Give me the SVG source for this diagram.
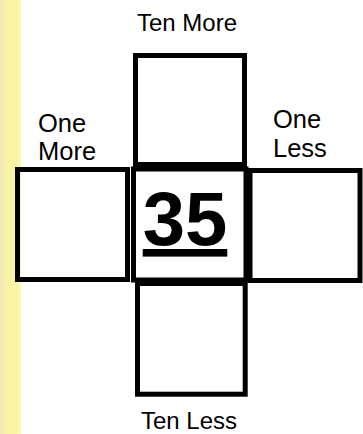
<svg xmlns="http://www.w3.org/2000/svg" width="363" height="434" viewBox="0 0 363 434">
  <defs>
    <linearGradient id="strip" x1="0" y1="0" x2="1" y2="0">
      <stop offset="0" stop-color="#f4e6b6"/>
      <stop offset="0.35" stop-color="#f9f4a6"/>
      <stop offset="0.75" stop-color="#f9f4a0"/>
      <stop offset="1" stop-color="#fbf8c0"/>
    </linearGradient>
  </defs>
  <style>
    .box { fill: none; stroke: #000; stroke-width: 5; }
    .lbl { font-family: "Liberation Sans", Arial, sans-serif; font-size: 24px; fill: #000; }
    .side { font-size: 25.5px; }
    .num { font-family: "Liberation Sans", Arial, sans-serif; font-size: 76px; font-weight: bold; fill: #000; text-decoration: underline; }
  </style>
  <rect x="0" y="0" width="363" height="434" fill="#fff"/>
  <rect x="0" y="0" width="21" height="434" fill="url(#strip)"/>
  <g id="connectors"></g>
  <g id="ten-more">
    <rect class="box" x="135.5" y="55.5" width="109" height="109"/>
    <text class="lbl" x="187" y="30.5" text-anchor="middle">Ten More</text>
  </g>
  <g id="one-more">
    <rect class="box" x="17.5" y="169.5" width="110" height="110"/>
    <text class="lbl side" x="38" y="131.5">One</text>
    <text class="lbl side" x="38" y="160">More</text>
  </g>
  <g id="one-less">
    <rect class="box" x="250" y="170.5" width="110" height="110"/>
    <text class="lbl side" x="273" y="128.3">One</text>
    <text class="lbl side" x="273" y="156.7">Less</text>
  </g>
  <g id="ten-less">
    <rect class="box" x="137.5" y="283.5" width="107.7" height="110.7"/>
    <text class="lbl" x="189" y="429" text-anchor="middle">Ten Less</text>
  </g>
  <g id="center">
    <rect class="box" x="133.5" y="169" width="112.5" height="111"/>
    <text class="num" x="185" y="245" text-anchor="middle">35</text>
  </g>
</svg>
